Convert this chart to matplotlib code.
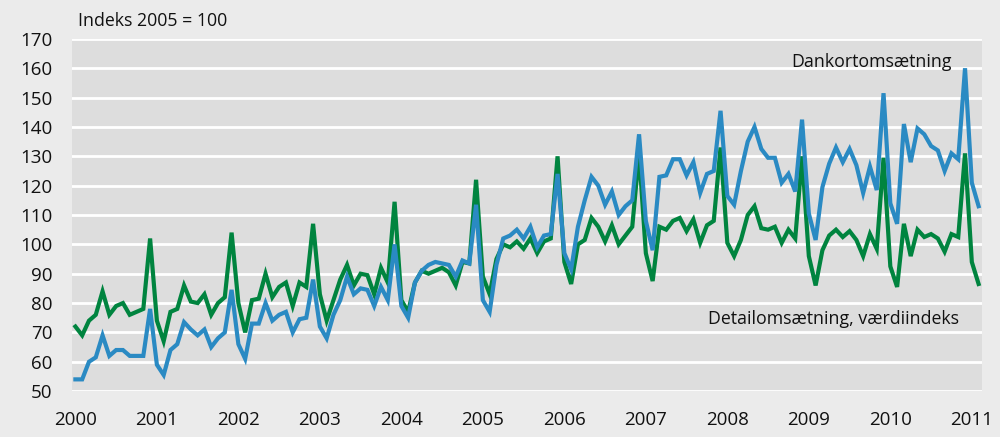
import matplotlib
matplotlib.use("Agg")
import matplotlib.pyplot as plt
import numpy as np

years = [str(y) for y in range(2000, 2012)]

# Monthly values, Jan 2000 - Feb 2011 (index 2005 = 100)
dankort = [
    54, 54, 60, 61.5, 69, 62, 64, 64, 62, 62, 62, 78,
    59, 55.5, 64, 66, 73.5, 71, 69, 71, 65, 68, 70, 84.5,
    66, 61, 73, 73, 80, 74, 76, 77, 70, 74.5, 75, 88,
    72, 68, 76, 81, 89, 83, 85, 84.5, 79, 85.5, 81, 100,
    79, 75, 87, 91, 93, 94, 93.5, 93, 89, 94.5, 93.5, 113.5,
    81, 77, 93, 102, 103, 105, 102, 106, 99, 103, 103.5, 124,
    97, 91.5, 106, 115, 123, 120, 113.5, 118, 110, 113, 115, 137.5,
    108, 98, 123, 123.5, 129, 129, 123.5, 128, 117.5, 124, 125, 145.5,
    116.5, 113.5, 125, 135, 140, 132.5, 129.5, 129.5, 121, 124, 118, 142.5,
    110.5, 101.5, 119.5, 127.5, 133, 128, 132.5, 127, 117.5, 126.5, 118.5, 151.5,
    114, 107, 141, 128, 139.5, 137.5, 133.5, 132, 125, 131, 129, 160,
    121, 113,
]
detail = [
    72, 69, 74, 76, 84, 76, 79, 80, 76, 77, 78, 102,
    74, 67, 77, 78, 86, 80.5, 80, 83, 76, 80, 82, 104,
    80, 70, 81, 81.5, 90, 82, 85.5, 87, 79, 87, 85.5, 107,
    83, 74, 81, 88, 93, 86, 90, 89.5, 83, 92, 87, 114.5,
    81, 77, 87, 91, 90, 91, 92, 90.5, 86, 94, 93.5, 122,
    89, 83, 95, 100, 99, 101, 98.5, 102, 97, 101, 102, 130,
    94, 86.5, 100, 101.5, 109, 106, 101, 106.5, 100, 103, 106, 131,
    97, 87.5, 106, 105, 108, 109, 104.5, 108.5, 100.5, 106.5, 108, 133,
    100.5, 96, 101.5, 110, 113, 105.5, 105, 106, 100.5, 105, 102, 130,
    96, 86, 98, 103, 105, 102.5, 104.5, 101.5, 96, 103.5, 98.5, 129.5,
    92.5, 85.5, 107, 96, 105, 102.5, 103.5, 102, 97.5, 103.5, 102.5, 131,
    94, 86.5,
]
yticks = list(range(50, 171, 10))

plt.rcParams['font.family'] = ['Open Sans', 'DejaVu Sans']
FS_TICK = 13.5
FS_TEXT = 12.8

fig = plt.figure(figsize=(10, 4.37), dpi=100, facecolor='#ebebeb')
ax = fig.add_axes([0.072, 0.105, 0.910, 0.806])
ax.set_facecolor('#dddddd')

x = np.arange(len(dankort))
ax.plot(x, detail, color='#00843f', lw=3.0, solid_joinstyle='miter', zorder=3)
ax.plot(x, dankort, color='#2a8ac3', lw=3.0, solid_joinstyle='miter', zorder=4)

ax.set_ylim(50, 170)
ax.set_xlim(-0.5, len(dankort) - 0.5)
ax.set_yticks(yticks)
ax.set_yticklabels([str(v) for v in yticks])
ax.set_xticks([12 * i for i in range(len(years))])
ax.set_xticklabels(years)
ax.tick_params(length=0, labelsize=FS_TICK, colors='#111111')
ax.tick_params(axis='y', pad=14)
ax.tick_params(axis='x', pad=14)
ax.grid(axis='y', color='white', lw=2.0, zorder=1)
ax.set_axisbelow(True)
for s in ax.spines.values():
    s.set_visible(False)

ax.text(105.4, 162, 'Dankortomsætning', fontsize=FS_TEXT, ha='left', va='center', color='#111111', zorder=5)
ax.text(93.2, 74.4, 'Detailomsætning, værdiindeks', fontsize=FS_TEXT, ha='left', va='center', color='#111111', zorder=5)
fig.text(0.078, 0.952, 'Indeks 2005 = 100', fontsize=FS_TEXT, ha='left', va='center', color='#111111')

fig.savefig('out.png', dpi=100, facecolor=fig.get_facecolor())
